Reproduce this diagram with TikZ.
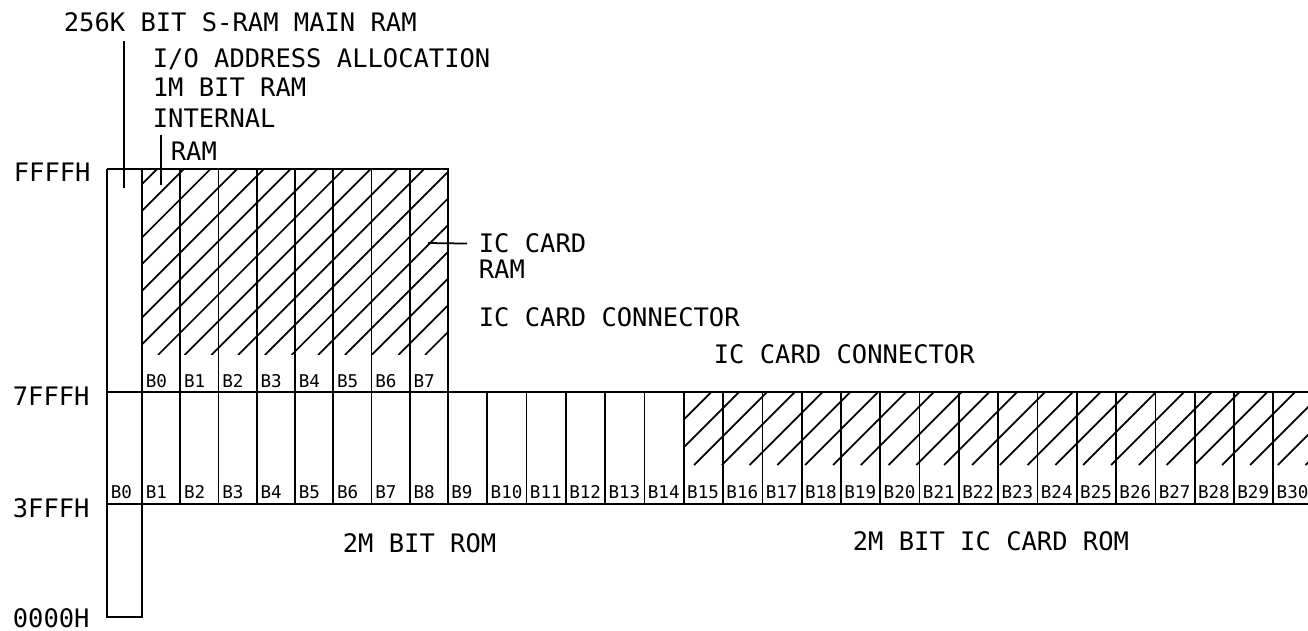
\documentclass[tikz,border=0pt]{standalone}
\usepackage{fontspec}
\newfontfamily\plotfont{DejaVu Sans Mono}
\usepackage{tikz}

\begin{document}
\begin{tikzpicture}[x=0.02cm, y=-0.02cm, line width=1pt,
    lbl/.style={font=\plotfont\fontsize{14.5}{17}\selectfont, inner sep=0pt, anchor=base west},
    bank/.style={font=\plotfont\fontsize{10}{12}\selectfont, inner sep=0pt, anchor=base west}]
    \useasboundingbox (0,0) rectangle (1308,631);

    % Address marks
    \node[lbl] (ffff) at (13,182) {FFFFH};
    \node[lbl] (7fff) at (12,405) {7FFFH};
    \node[lbl] (3fff) at (12,517) {3FFFH};
    \node[lbl] (zero) at (12,627) {0000H};

    % Memory blocks
    \draw (107,169) -- (448,169) -- (448,504);
    \draw (142,169) -- (142,617) -- (107,617) -- (107,169);
    \draw (107,392) -- (1310,392);
    \draw (107,504) -- (1310,504);
    \foreach \j in {1,...,7} {
        \pgfmathsetmacro{\x}{142+38.25*\j}
        \draw (\x,169) -- (\x,504);
    }
    \foreach \j in {1,...,21} {
        \pgfmathsetmacro{\x}{448+39.3*\j}
        \draw (\x,392) -- (\x,504);
    }

    % IC card RAM hatching
    \begin{scope}
        \clip (142,169) rectangle (448,355);
        \foreach \k in {-8,...,11} {
            \pgfmathsetmacro{\x}{158+26.7*\k}
            \draw (\x,355) -- ++(250,-250);
        }
    \end{scope}

    % IC card ROM hatching
    \begin{scope}
        \clip (683,392) rectangle (1310,465);
        \foreach \k in {-3,...,22} {
            \pgfmathsetmacro{\x}{694+27.8*\k}
            \draw (\x,465) -- ++(120,-120);
        }
    \end{scope}

    % Bank numbers
    \foreach \i in {0,...,7} {
        \pgfmathsetmacro{\x}{145+38.25*\i}
        \node[bank] (up\i) at (\x,387) {B\i};
    }
    \node[bank] (lo0) at (110,498) {B0};
    \foreach \i in {1,...,8} {
        \pgfmathsetmacro{\x}{145+38.25*(\i-1)}
        \node[bank] (lo\i) at (\x,498) {B\i};
    }
    \foreach \i in {9,...,30} {
        \pgfmathsetmacro{\x}{450.5+39.3*(\i-9)}
        \node[bank] (lo\i) at (\x,498) {B\i};
    }

    % Labels
    \node[lbl] (mainram) at (63,32) {256K BIT S-RAM MAIN RAM};
    \node[lbl] (ioalloc) at (152,68) {I/O ADDRESS ALLOCATION};
    \node[lbl] (onembit) at (152,97) {1M BIT RAM};
    \node[lbl] (internal) at (152,128) {INTERNAL};
    \node[lbl] (intram) at (170,161) {RAM};
    \node[lbl] (iccard) at (478,253) {IC CARD};
    \node[lbl] (iccardram) at (478,279) {RAM};
    \node[lbl] (conn1) at (478,327) {IC CARD CONNECTOR};
    \node[lbl] (conn2) at (713,364) {IC CARD CONNECTOR};
    \node[lbl] (rom) at (342,552) {2M BIT ROM};
    \node[lbl] (cardrom) at (852,550) {2M BIT IC CARD ROM};

    % Leader lines
    \coordinate (mtip) at (124,188);
    \coordinate (itip) at (161,185);
    \coordinate (rtip) at (428,243);
    \draw[shorten <=0.16cm] (mainram.south -| mtip) -- (mtip);
    \draw (itip |- intram.north) ++(0,-7) -- (itip);
    \draw[shorten <=0.22cm] (iccard.west) -- (rtip);
\end{tikzpicture}
\end{document}
